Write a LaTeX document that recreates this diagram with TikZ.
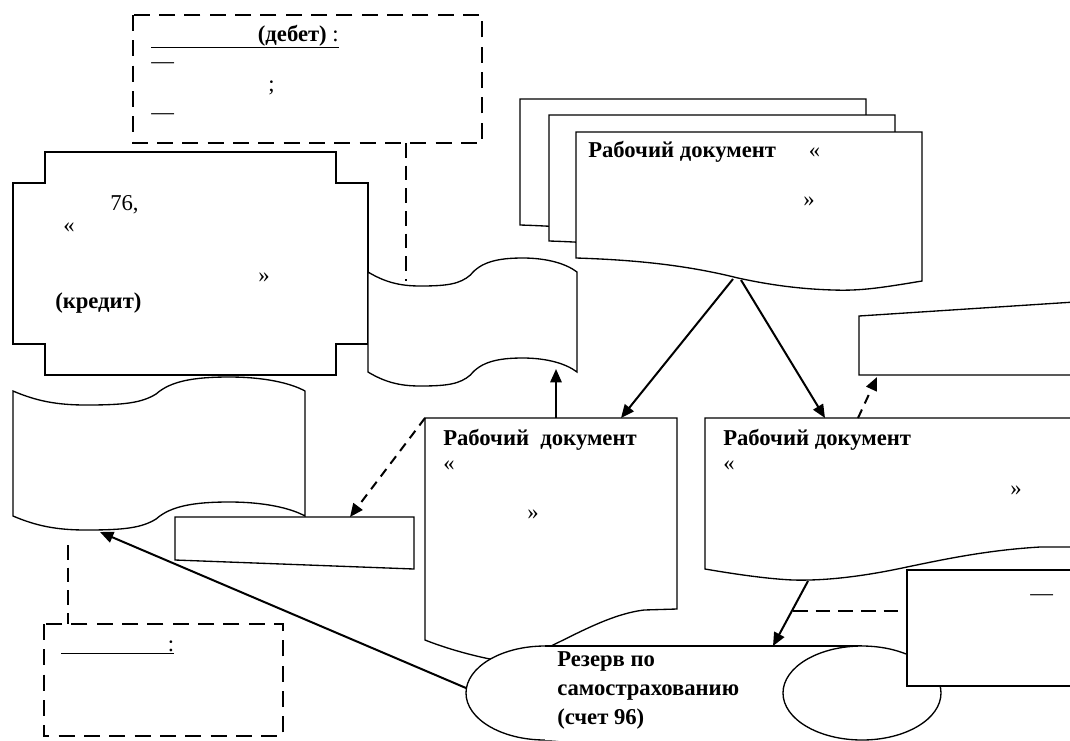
\documentclass[tikz,border=0pt]{standalone}
\usepackage{fontspec}
\setmainfont{Liberation Serif}
\usetikzlibrary{arrows.meta}

% punched tape: x0, y0, width, height
\newcommand{\punchtape}[4]{%
  \begin{scope}[shift={(#1,#2)}, xscale=#3/100]
    \draw[outline] (0,0) .. controls (8,10) and (15,14) .. (25,14)
      .. controls (38,14) and (44,12) .. (49,3)
      .. controls (54,-10) and (62,-14) .. (74,-14)
      .. controls (86,-14) and (95,-8) .. (100,0)
      -- (100,#4)
      .. controls (95,#4-8) and (86,#4-14) .. (74,#4-14)
      .. controls (62,#4-14) and (54,#4-10) .. (49,#4+3)
      .. controls (44,#4+12) and (38,#4+14) .. (25,#4+14)
      .. controls (15,#4+14) and (8,#4+10) .. (0,#4)
      -- cycle;
  \end{scope}}
% one sheet of the document stack
\newcommand{\stackdoc}[2]{%
  \draw[outline, shift={(#1,#2)}] (0,126) -- (0,0) -- (346,0) -- (346,149)
    .. controls (304,156) and (284,159) .. (257,158)
    .. controls (224,157) and (194,153) .. (162,146)
    .. controls (114,134) and (64,128) .. (0,126) -- cycle;}

\begin{document}
\begin{tikzpicture}[x=0.75pt, y=-0.75pt,
    outline/.style={draw, line width=1pt, fill=white},
    dashedbox/.style={line width=1.1pt, dash pattern=on 12pt off 7pt},
    dashedline/.style={line width=1.3pt, dash pattern=on 11pt off 6pt},
    arrow/.style={-{Triangle[length=10pt,width=8.5pt]}, line width=1.5pt},
    dasharrow/.style={arrow, dash pattern=on 7pt off 5pt},
    txt/.style={font=\fontsize{17}{22}\selectfont, inner sep=0pt, anchor=west},
    btxt/.style={txt, font=\fontsize{17}{22}\selectfont\bfseries}
]
\useasboundingbox[fill=white] (0,0) rectangle (1070,740);
\clip (0,0) rectangle (1070,740);

% account boxes
\draw[dashedbox] (133,15) rectangle (482,143);
\draw[outline] (45,152) -- (336,152) -- (336,183) -- (368,183) -- (368,344)
  -- (336,344) -- (336,375) -- (45,375) -- (45,344) -- (13,344) -- (13,183)
  -- (45,183) -- cycle;
\punchtape{368}{272}{209}{100}
\punchtape{13}{391}{292}{125}
\draw[outline] (175,517) -- (414,517) -- (414,569) -- (175,560) -- cycle;

% working documents
\stackdoc{520}{99}
\stackdoc{549}{115}
\stackdoc{576}{132}
\draw[outline] (859,316) -- (1090,301) -- (1090,375) -- (859,375) -- cycle;
\draw[outline] (425,418) -- (677,418) -- (677,609) -- (644,610)
  .. controls (612,614) and (580,632) .. (547,648)
  .. controls (525,658) and (505,662) .. (490,659)
  .. controls (470,655) and (445,648) .. (425,640) -- cycle;
\draw[outline] (705,418) -- (1090,418) -- (1090,547) -- (1040,547)
  .. controls (990,550) and (950,558) .. (907,567)
  .. controls (870,575) and (830,581) .. (793,580)
  .. controls (770,579) and (740,575) .. (705,569) -- cycle;

% reserve (drum)
\draw[outline] (545,693) ellipse [x radius=79, y radius=47];
\fill[white] (545,646) rectangle (862,740);
\draw[line width=1pt] (545,646) -- (862,646);
\draw[outline] (862,693) ellipse [x radius=79, y radius=47];
\draw[outline] (907,570) rectangle (1090,686);

\draw[dashedbox] (44,624) rectangle (283,736);

% texts
\node[txt, anchor=base west] (debet) at (151,41)
  {\underline{\hspace{80pt}\textbf{(дебет)} :}};
\node[txt] (debet-1) at (151,66) {—};
\node[txt] (debet-2) at (268,88) {;};
\node[txt] (debet-3) at (151,117) {—};
\node[txt] (credit-1) at (110,205) {76,};
\node[txt] (credit-2) at (63,228) {«};
\node[txt] (credit-3) at (258,278) {»};
\node[btxt] (credit-4) at (55,303) {(кредит)};
\node[btxt] (stack-1) at (588,152) {Рабочий документ\hspace{1.45em}\mdseries«};
\node[txt] (stack-2) at (803,202) {»};
\node[btxt] (docA-1) at (443,440) {Рабочий\ \ документ};
\node[txt] (docA-2) at (443,466) {«};
\node[txt] (docA-3) at (527,515) {»};
\node[btxt] (docB-1) at (723,440) {Рабочий документ};
\node[txt] (docB-2) at (723,466) {«};
\node[txt] (docB-3) at (1010,491) {»};
\node[txt] (rectC-1) at (1030,598) {—};
\node[btxt, anchor=north west, align=left] (reserve) at (557,651)
  {Резерв по\\самострахованию\\(счет 96)};
\node[txt, anchor=base west] (bottom-1) at (61,651) {\underline{\hspace{80pt}:}};

% connectors
\coordinate (stack-out1) at (733,279);
\coordinate (stack-out2) at (741,280);
\coordinate (docA-in) at (621,418);
\coordinate (docB-in) at (825,418);
\coordinate (docA-up) at (556,418);
\coordinate (tape1-in) at (556,369);
\coordinate (docA-corner) at (425,418);
\coordinate (rectE-in) at (350,517);
\coordinate (docB-dash) at (858,418);
\coordinate (rectD-in) at (877,377);
\coordinate (debet-out) at (406,143);
\coordinate (tape1-top) at (406,281);
\coordinate (tape2-out) at (68,545);
\coordinate (bottom-top) at (68,624);
\coordinate (reserve-left) at (466,688);
\coordinate (tape2-in) at (100,532);
\coordinate (docB-out) at (808,581);
\coordinate (reserve-top) at (773,646);
\coordinate (branch) at (793,611);
\coordinate (rectC-left) at (907,611);

\draw[arrow] (stack-out1) -- (docA-in);
\draw[arrow] (stack-out2) -- (docB-in);
\draw[arrow] (docA-up) -- (tape1-in);
\draw[arrow] (reserve-left) -- (tape2-in);
\draw[arrow] (docB-out) -- (reserve-top);
\draw[dasharrow] (docA-corner) -- (rectE-in);
\draw[dasharrow] (docB-dash) -- (rectD-in);
\draw[dashedline] (debet-out) -- (tape1-top);
\draw[dashedline] (tape2-out) -- (bottom-top);
\draw[dashedline] (branch) -- (rectC-left);
\end{tikzpicture}
\end{document}
